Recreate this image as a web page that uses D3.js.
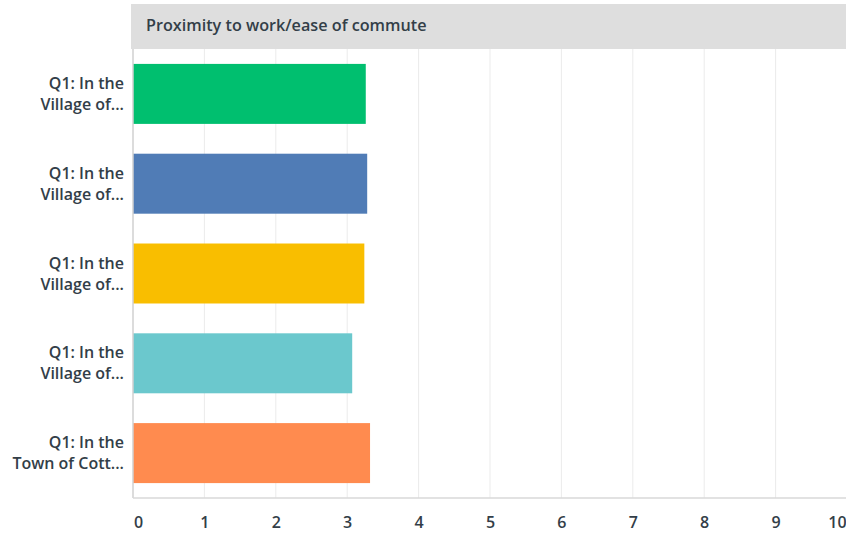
<!DOCTYPE html>
<html><head><meta charset="utf-8">
<script src="https://cdn.jsdelivr.net/npm/d3@7"></script>
<style>body{margin:0;background:#fff;}svg{display:block;font-family:"Open Sans","Lato",sans-serif;}</style>
</head><body>
<svg id="c" width="846" height="535"></svg>
<script>
const title = "Proximity to work/ease of commute";
const categories = [
  ["Q1: In the", "Village of..."],
  ["Q1: In the", "Village of..."],
  ["Q1: In the", "Village of..."],
  ["Q1: In the", "Village of..."],
  ["Q1: In the", "Town of Cott..."]
];
const values = [3.26, 3.28, 3.24, 3.07, 3.32];
const colors = ["#00bf6f", "#507cb6", "#f9be00", "#6bc8cd", "#ff8b4f"];
const ticks = [0,1,2,3,4,5,6,7,8,9,10];

(function(){
const svg = d3.select("#c");
const pLeft = 133, pRight = 847, pTop = 49, pBottom = 498;
const x = d3.scaleLinear().domain([0,10]).range([pLeft,pRight]);
const y = d3.scaleBand().domain(d3.range(categories.length)).range([pTop,pBottom]).paddingInner(0.332).paddingOuter(0.166);

// header
svg.append("rect").attr("x",131).attr("y",4).attr("width",846-131).attr("height",45).attr("fill","#dedede");
svg.append("text").attr("x",146).attr("y",31).attr("font-size",16.2).attr("font-weight",600).attr("fill","#333e48").text(title);

// gridlines
svg.append("g").selectAll("line").data(ticks.slice(1)).join("line")
  .attr("x1",d=>x(d)).attr("x2",d=>x(d)).attr("y1",pTop).attr("y2",pBottom)
  .attr("stroke","#ebebeb").attr("stroke-width",1);

// bars
svg.append("g").selectAll("rect").data(values).join("rect")
  .attr("x",x(0)).attr("y",(d,i)=>y(i)).attr("width",d=>x(d)-x(0)).attr("height",y.bandwidth())
  .attr("fill",(d,i)=>colors[i]);

// axis lines
svg.append("line").attr("x1",pLeft).attr("x2",pLeft).attr("y1",pTop).attr("y2",pBottom).attr("stroke","#d0d0d0").attr("stroke-width",1.5);
svg.append("line").attr("x1",pLeft).attr("x2",846).attr("y1",pBottom).attr("y2",pBottom).attr("stroke","#d8d8d8").attr("stroke-width",1.5);

// x axis tick labels
const xa = svg.append("g").attr("transform",`translate(0,${pBottom})`).call(d3.axisBottom(x).tickValues(ticks).tickSize(0).tickPadding(19));
xa.select(".domain").remove();
xa.selectAll("text").attr("font-size",16).attr("font-weight",600).attr("fill","#333e48").attr("font-family","'Open Sans',sans-serif")
  .attr("dx",(d)=>d===10?"-10":(d===0?"5":"0"));

// y labels
const lab = svg.append("g").selectAll("text").data(categories).join("text")
  .attr("text-anchor","end").attr("font-size",16).attr("font-weight",600).attr("fill","#333e48");
lab.each(function(d,i){
  const t = d3.select(this);
  const cy = y(i)+y.bandwidth()/2;
  d.forEach((s,k)=>t.append("tspan").attr("x",124).attr("y",cy - 5 + k*21).text(s));
});
})();
</script>
</body></html>
